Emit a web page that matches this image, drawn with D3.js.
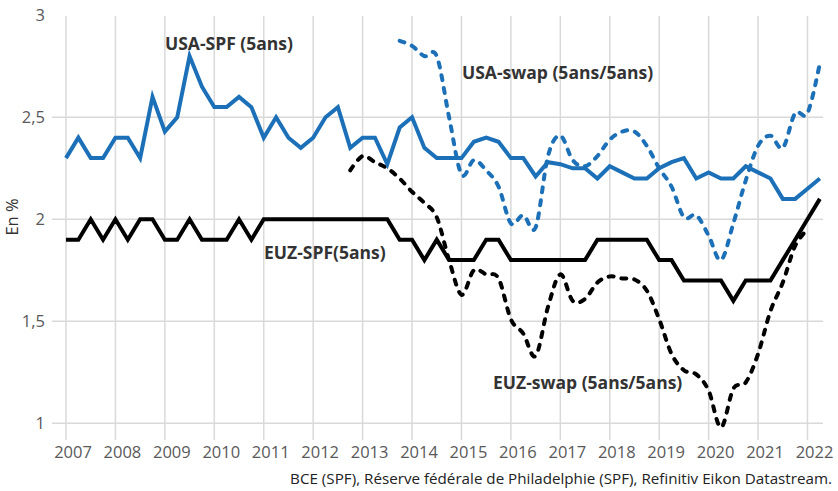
<!DOCTYPE html>
<html lang="fr">
<head>
<meta charset="UTF-8">
<title>Anticipations d'inflation</title>
<script src="https://d3js.org/d3.v7.min.js"></script>
<style>
    body { margin: 0; background: #fff; }
    .grid line { stroke: #d9d9d9; stroke-width: 1.5px; }
    .tick-label { font-family: "Open Sans", sans-serif; font-size: 16.5px; fill: #595959; }
    .series-label { font-family: "Open Sans", sans-serif; font-size: 17.5px; font-weight: 700; fill: #333; }
    .source { font-family: "Open Sans", sans-serif; font-size: 15.2px; fill: #222; }
</style>
</head>
<body>
<svg width="838" height="491"></svg>
<script>
    // données trimestrielles
    const years = d3.range(2007, 2023);
    const yTicks = [1, 1.5, 2, 2.5, 3];

    const usaSpfStart = 2007;
    const usaSpf = [
        2.30, 2.40, 2.30, 2.30,
        2.40, 2.40, 2.30, 2.60,
        2.43, 2.50, 2.80, 2.65,
        2.55, 2.55, 2.60, 2.55,
        2.40, 2.50, 2.40, 2.35,
        2.40, 2.50, 2.55, 2.35,
        2.40, 2.40, 2.27, 2.45,
        2.50, 2.35, 2.30, 2.30,
        2.30, 2.38, 2.40, 2.38,
        2.30, 2.30, 2.21, 2.28,
        2.27, 2.25, 2.25, 2.20,
        2.26, 2.23, 2.20, 2.20,
        2.25, 2.28, 2.30, 2.20,
        2.23, 2.20, 2.20, 2.26,
        2.23, 2.20, 2.10, 2.10,
        2.15, 2.20
    ];

    const euzSpfStart = 2007;
    const euzSpf = [
        1.9, 1.9, 2.0, 1.9,
        2.0, 1.9, 2.0, 2.0,
        1.9, 1.9, 2.0, 1.9,
        1.9, 1.9, 2.0, 1.9,
        2.0, 2.0, 2.0, 2.0,
        2.0, 2.0, 2.0, 2.0,
        2.0, 2.0, 2.0, 1.9,
        1.9, 1.8, 1.9, 1.8,
        1.8, 1.8, 1.9, 1.9,
        1.8, 1.8, 1.8, 1.8,
        1.8, 1.8, 1.8, 1.9,
        1.9, 1.9, 1.9, 1.9,
        1.8, 1.8, 1.7, 1.7,
        1.7, 1.7, 1.6, 1.7,
        1.7, 1.7, 1.8, 1.9,
        2.0, 2.1
    ];

    const usaSwapStart = 2013.75;
    const usaSwap = [
        2.875,
        2.85, 2.80, 2.80, 2.50,
        2.22, 2.29, 2.24, 2.16,
        1.98, 2.02, 1.96, 2.31,
        2.41, 2.29, 2.26, 2.31,
        2.39, 2.43, 2.43, 2.36,
        2.25, 2.16, 2.01, 2.02,
        1.92, 1.80, 1.98, 2.19,
        2.36, 2.41, 2.35, 2.52,
        2.52, 2.765
    ];

    const euzSwapStart = 2012.75;
    const euzSwap = [
        2.24,
        2.31, 2.28, 2.25, 2.20,
        2.135, 2.08, 2.01, 1.80,
        1.63, 1.75, 1.73, 1.71,
        1.51, 1.44, 1.33, 1.57,
        1.73, 1.60, 1.61, 1.69,
        1.72, 1.71, 1.705, 1.65,
        1.51, 1.34, 1.26, 1.24,
        1.16, 0.98, 1.17, 1.20,
        1.34, 1.55, 1.69, 1.87,
        1.95
    ];

    const toPoints = (start, vals) => vals.map((v, i) => ({t: start + i / 4, v: v}));

    const svg = d3.select("svg");
    const blue = "#1c70b8";

    const x = d3.scaleLinear().domain([2007, 2022]).range([66, 807.5]);
    const y = d3.scaleLinear().domain([1, 3]).range([423.3, 15.3]);

    // grille
    const grid = svg.append("g").attr("class", "grid");
    grid.selectAll("line.v")
        .data(years)
        .enter().append("line")
        .attr("class", "v")
        .attr("x1", d => x(d)).attr("x2", d => x(d))
        .attr("y1", 16).attr("y2", 440);
    grid.selectAll("line.h")
        .data(yTicks.filter(d => d < 3))
        .enter().append("line")
        .attr("class", "h")
        .attr("x1", 52).attr("x2", 823)
        .attr("y1", d => y(d)).attr("y2", d => y(d));

    // axes
    const fmt = d => d3.format("~g")(d).replace(".", ",");
    svg.append("g").selectAll("text")
        .data(yTicks)
        .enter().append("text")
        .attr("class", "tick-label")
        .attr("x", 45)
        .attr("y", d => y(d))
        .attr("dy", "0.35em")
        .attr("text-anchor", "end")
        .text(fmt);

    svg.append("g").selectAll("text")
        .data(years)
        .enter().append("text")
        .attr("class", "tick-label")
        .attr("x", d => x(d) + 7)
        .attr("y", 458)
        .attr("text-anchor", "middle")
        .text(d => d);

    svg.append("text")
        .attr("class", "tick-label")
        .attr("transform", "translate(18,217) rotate(-90)")
        .attr("text-anchor", "middle")
        .style("fill", "#333")
        .text("En %");

    // courbes
    const straight = d3.line().x(d => x(d.t)).y(d => y(d.v));
    const smooth = d3.line().x(d => x(d.t)).y(d => y(d.v)).curve(d3.curveCardinal);

    const series = [
        {data: toPoints(euzSwapStart, euzSwap), color: "#000", dash: "5 8", gen: smooth},
        {data: toPoints(usaSwapStart, usaSwap), color: blue, dash: "5 8", gen: smooth},
        {data: toPoints(euzSpfStart, euzSpf), color: "#000", dash: null, gen: straight},
        {data: toPoints(usaSpfStart, usaSpf), color: blue, dash: null, gen: straight}
    ];

    svg.append("g").selectAll("path")
        .data(series)
        .enter().append("path")
        .attr("fill", "none")
        .attr("stroke", d => d.color)
        .attr("stroke-width", 4)
        .attr("stroke-linecap", d => d.dash ? "round" : "butt")
        .attr("stroke-linejoin", "miter")
        .attr("stroke-dasharray", d => d.dash)
        .attr("d", d => d.gen(d.data));

    // étiquettes
    const labels = [
        {text: "USA-SPF (5ans)", x: 165, y: 50},
        {text: "USA-swap (5ans/5ans)", x: 462, y: 79},
        {text: "EUZ-SPF(5ans)", x: 264, y: 259},
        {text: "EUZ-swap (5ans/5ans)", x: 493, y: 389}
    ];
    svg.append("g").selectAll("text")
        .data(labels)
        .enter().append("text")
        .attr("class", "series-label")
        .attr("x", d => d.x)
        .attr("y", d => d.y)
        .text(d => d.text);

    svg.append("text")
        .attr("class", "source")
        .attr("x", 832)
        .attr("y", 484)
        .attr("text-anchor", "end")
        .text("BCE (SPF), Réserve fédérale de Philadelphie (SPF), Refinitiv Eikon Datastream.");
</script>
</body>
</html>
